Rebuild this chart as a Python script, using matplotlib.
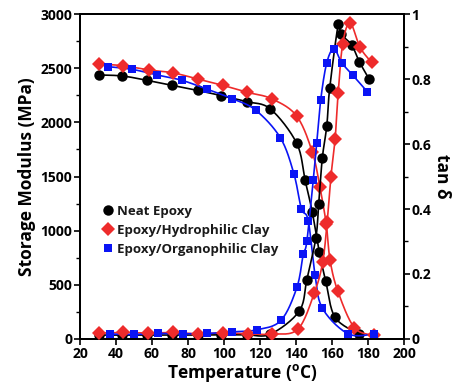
import matplotlib
matplotlib.use("Agg")
import matplotlib.pyplot as plt
import numpy as np
from matplotlib.ticker import MultipleLocator
from matplotlib.lines import Line2D

plt.rcParams['font.family'] = ['Open Sans', 'DejaVu Sans']
plt.rcParams['font.weight'] = 'bold'
plt.rcParams['mathtext.default'] = 'regular'

# storage modulus (MPa), left axis
neat_mod_t = [30.5, 43.5, 57.2, 71.2, 85.3, 98.6, 112.5, 125.8, 140.4, 145.0, 149.0, 152.9, 156.5, 161.7, 175.0]
neat_mod = [2437, 2428, 2388, 2342, 2295, 2246, 2191, 2123, 1806, 1468, 1175, 806, 535, 200, 46]

hydro_mod_t = [30.5, 43.9, 58.3, 71.4, 85.3, 99.2, 113.0, 126.4, 140.3, 149.1, 153.3, 156.8, 158.9, 163.2, 172.4, 183.5]
hydro_mod = [2538, 2523, 2483, 2458, 2400, 2342, 2277, 2218, 2060, 1723, 1400, 1060, 729, 443, 105, 33]

organo_mod_t = [35.4, 49.0, 62.9, 76.6, 90.7, 104.6, 117.5, 131.3, 138.8, 143.0, 146.8, 150.6, 154.7, 168.9, 183.2]
organo_mod = [2514, 2489, 2437, 2388, 2305, 2218, 2114, 1858, 1527, 1203, 1092, 591, 283, 48, 45]

# tan delta, right axis
neat_tan_t = [30.5, 43.5, 57.2, 71.2, 85.3, 98.6, 112.5, 125.8, 141.8, 146.0, 151.0, 152.6, 154.6, 157.1, 158.7, 163.5, 165.0, 170.9, 175.2, 180.7]
neat_tan = [0.012, 0.012, 0.012, 0.012, 0.012, 0.013, 0.013, 0.015, 0.086, 0.182, 0.31, 0.415, 0.556, 0.656, 0.771, 0.969, 0.938, 0.905, 0.853, 0.799]

hydro_tan_t = [30.3, 44.0, 58.0, 71.8, 85.5, 99.5, 113.3, 126.7, 141.0, 150.2, 154.8, 157.3, 159.4, 161.7, 163.4, 165.9, 170.0, 175.6, 182.0]
hydro_tan = [0.018, 0.020, 0.018, 0.020, 0.016, 0.019, 0.016, 0.015, 0.030, 0.142, 0.236, 0.36, 0.50, 0.614, 0.756, 0.907, 0.973, 0.897, 0.851]

organo_tan_t = [36.7, 50.0, 63.2, 77.0, 90.8, 104.3, 118.1, 131.6, 140.5, 144.0, 146.0, 149.6, 151.5, 153.7, 157.0, 161.0, 165.4, 171.5, 179.6]
organo_tan = [0.015, 0.014, 0.017, 0.016, 0.017, 0.022, 0.028, 0.057, 0.159, 0.26, 0.30, 0.49, 0.603, 0.735, 0.848, 0.893, 0.85, 0.812, 0.761]

labels = ['Neat Epoxy', 'Epoxy/Hydrophilic Clay', 'Epoxy/Organophilic Clay']
colors = ['black', '#ee2b2b', '#0a14f5']
markers = ['o', 'D', 's']
msizes = [7.5, 7.0, 6.2]


def smooth_path(x, y, xspan, yspan, n=16):
    # Catmull-Rom curve through the points, only for drawing the connecting line
    p = np.column_stack([np.asarray(x, float) / xspan, np.asarray(y, float) / yspan])
    p = np.vstack([p[0], p, p[-1]])
    t = np.linspace(0, 1, n, endpoint=False)[:, None]
    segs = []
    for i in range(1, len(p) - 2):
        p0, p1, p2, p3 = p[i - 1], p[i], p[i + 1], p[i + 2]
        segs.append(0.5 * (2 * p1 + (-p0 + p2) * t + (2 * p0 - 5 * p1 + 4 * p2 - p3) * t ** 2
                           + (-p0 + 3 * p1 - 3 * p2 + p3) * t ** 3))
    segs.append(p[-2][None])
    out = np.vstack(segs)
    return out[:, 0] * xspan, out[:, 1] * yspan


fig = plt.figure(figsize=(4.54, 3.85), dpi=100)
ax = fig.add_axes([0.1762, 0.1195, 0.7137, 0.8441])
ax2 = ax.twinx()

mod_sets = [(neat_mod_t, neat_mod), (hydro_mod_t, hydro_mod), (organo_mod_t, organo_mod)]
tan_sets = [(neat_tan_t, neat_tan), (hydro_tan_t, hydro_tan), (organo_tan_t, organo_tan)]

for i in [2, 0, 1]:
    tx, ty = mod_sets[i]
    sx, sy = smooth_path(tx, ty, 180, 3000)
    ax.plot(sx, sy, color=colors[i], lw=1.2, zorder=2 + i)
    ax.plot(tx, ty, ls='none', marker=markers[i], ms=msizes[i], color=colors[i],
            markeredgewidth=0, zorder=3 + i)
    tx, ty = tan_sets[i]
    sx, sy = smooth_path(tx, ty, 180, 1)
    ax2.plot(sx, sy, color=colors[i], lw=1.2, zorder=2 + i)
    ax2.plot(tx, ty, ls='none', marker=markers[i], ms=msizes[i], color=colors[i],
             markeredgewidth=0, zorder=3 + i)

ax.set_xlim(20, 200)
ax.set_ylim(0, 3000)
ax2.set_ylim(0, 1)

ax.xaxis.set_major_locator(MultipleLocator(20))
ax.yaxis.set_major_locator(MultipleLocator(500))
ax.yaxis.set_minor_locator(MultipleLocator(250))
ax2.yaxis.set_major_locator(MultipleLocator(0.2))
ax2.yaxis.set_minor_locator(MultipleLocator(0.1))
ax2.set_yticks([0, 0.2, 0.4, 0.6, 0.8, 1.0])
ax2.set_yticklabels(['0', '0.2', '0.4', '0.6', '0.8', '1'])

for a in (ax, ax2):
    for s in a.spines.values():
        s.set_linewidth(1.4)
    a.tick_params(which='major', length=4, width=1.2, pad=1.5, labelsize=10)
    a.tick_params(which='minor', length=3, width=1.0)

ax.set_xlabel('Temperature ($^{\\mathregular{o}}$C)', fontsize=12.5, fontweight='bold', labelpad=1)
ax.set_ylabel('Storage Modulus (MPa)', fontsize=12.5, fontweight='bold', labelpad=3)
ax2.set_ylabel('tan δ', fontsize=12.5, fontweight='bold', rotation=-90, labelpad=14)

handles = [Line2D([], [], ls='none', marker=markers[i], ms=msizes[i], color=colors[i],
                  markeredgewidth=0) for i in range(3)]
leg = ax2.legend(handles, labels, loc='upper left', bbox_to_anchor=(0.03, 0.45),
                 frameon=False, handletextpad=0.2, handlelength=1.0, labelspacing=0.45,
                 prop={'weight': 'bold', 'size': 9.5})
for txt in leg.get_texts():
    txt.set_color('#1a1a1a')

fig.savefig('out.png', dpi=100)
